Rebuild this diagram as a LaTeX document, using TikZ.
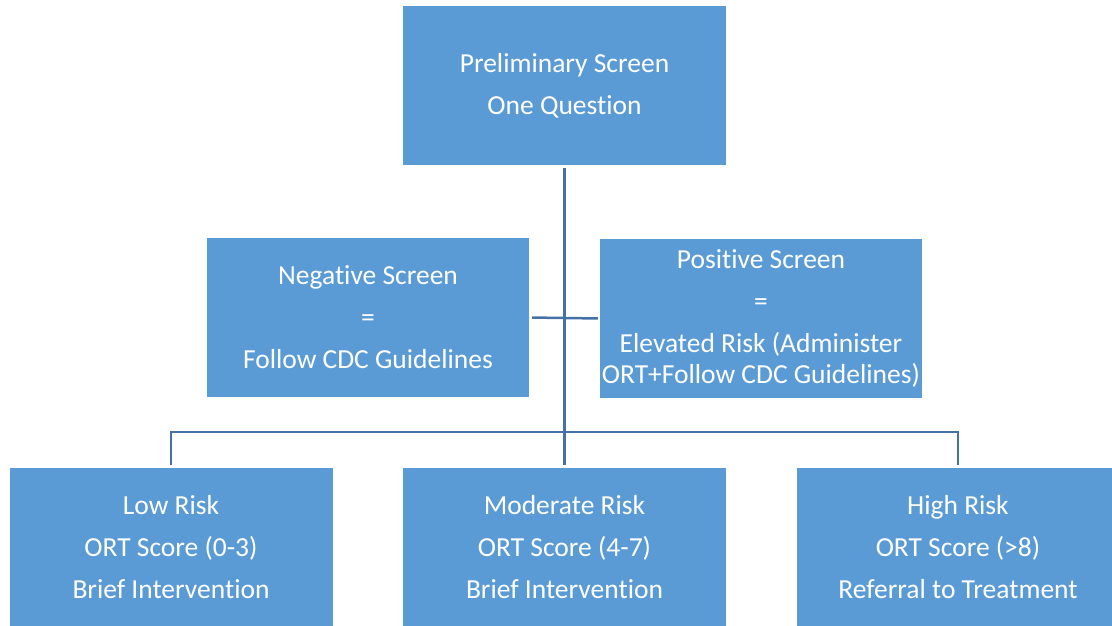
\documentclass[tikz,border=0pt]{standalone}
\usepackage{fontspec}
\setmainfont[Ligatures={NoCommon}]{Carlito}
\definecolor{boxblue}{RGB}{91,155,213}
\definecolor{lineblue}{RGB}{68,114,166}
\begin{document}
\begin{tikzpicture}[x=1pt,y=-1pt,
  box/.style={fill=boxblue, draw=none, minimum width=323pt, minimum height=159pt,
    inner sep=0pt, align=center, text=white,
    font=\fontsize{27.5pt}{31pt}\selectfont},
  conn/.style={draw=lineblue, line width=2.5pt}]
\clip (0,0) rectangle (1112,626);
\fill[white] (0,0) rectangle (1112,626);
\node[box] (top) at (564.5,85.5) {Preliminary Screen\\[11pt]One Question};
\node[box, minimum width=322pt] (neg) at (368,317.5) {Negative Screen\\[11pt]=\\[11pt]Follow CDC Guidelines};
\node[box, minimum width=322pt] (pos) at (761,318.5) {Positive Screen\\[11pt]=\\[11pt]Elevated Risk (Administer\\ORT+Follow CDC Guidelines)};
\node[box] (low) at (171,547.5) {Low Risk\\[11pt]ORT Score (0-3)\\[11pt]Brief Intervention};
\node[box] (mod) at (564.5,547.5) {Moderate Risk\\[11pt]ORT Score (4-7)\\[11pt]Brief Intervention};
\node[box] (high) at (958,547.5) {High Risk\\[11pt]ORT Score (>8)\\[11pt]Referral to Treatment};
\coordinate (bus) at (564.5,432);
\draw[conn, shorten <=3pt, shorten >=3pt] (top.south) -- (mod.north);
\draw[conn, shorten <=3pt, shorten >=2pt] (neg.east) -- (pos.west);
\draw[conn] ([yshift=3pt]low.north) |- (bus) -| ([yshift=3pt]high.north);
\end{tikzpicture}
\end{document}
